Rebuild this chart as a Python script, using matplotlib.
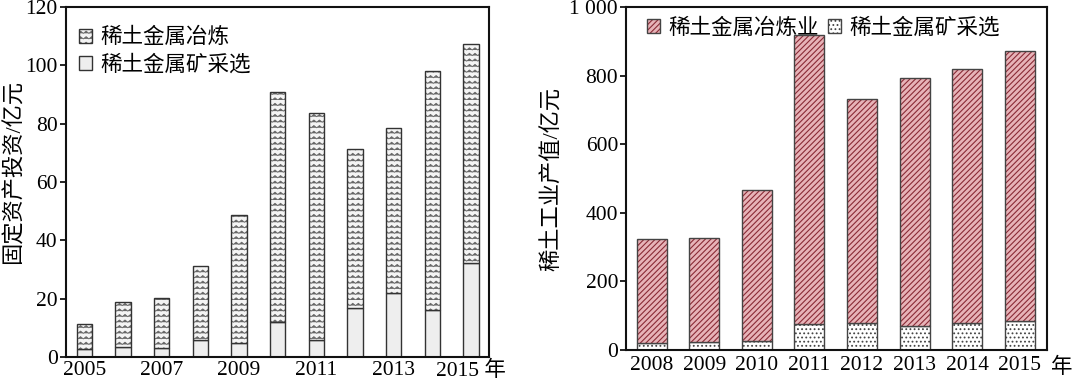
import warnings
import numpy as np
import matplotlib
matplotlib.use('Agg')
import matplotlib.pyplot as plt
from matplotlib import hatch as mhatch
from matplotlib.path import Path

warnings.filterwarnings('ignore')

# left panel: fixed asset investment (亿元)
years_a = [2005, 2006, 2007, 2008, 2009, 2010, 2011, 2012, 2013, 2014, 2015]
mining_a = [2.6, 3.5, 3.0, 5.8, 4.7, 12.1, 6.0, 16.7, 22.0, 16.1, 32.1]
total_a = [11.3, 18.9, 20.3, 31.2, 48.7, 90.7, 83.8, 71.2, 78.6, 98.2, 107.2]
ticks_a = [2005, 2007, 2009, 2011, 2013, 2015]
ticklabels_a = ['2005', '2007', '2009', '2011', '2013', '2015 年']

# right panel: industrial output value (亿元)
years_b = [2008, 2009, 2010, 2011, 2012, 2013, 2014, 2015]
mining_b = [20, 22, 27, 76, 78, 70, 78, 85]
total_b = [323, 328, 467, 918, 731, 794, 821, 872]
ticklabels_b = ['2008', '2009', '2010', '2011', '2012', '2013', '2014', '2015']
yticks_b = [0, 200, 400, 600, 800, 1000]
yticklabels_b = ['0', '200', '400', '600', '800', '1 000']


class ZigZagHatch(mhatch.HatchPatternBase):
    # horizontal zigzag rows, used with the 'z' hatch character
    def __init__(self, hatch, density):
        self.num_rows = int(hatch.count('z') * density)
        self.teeth = self.num_rows
        self.num_vertices = self.num_rows * (2 * self.teeth + 1)

    def set_vertices_and_codes(self, vertices, codes):
        if self.num_rows == 0:
            return
        step = 1.0 / self.num_rows
        n = 2 * self.teeth + 1
        xs = np.linspace(0, 1, n)
        amp = np.where(np.arange(n) % 2 == 1, step * 0.4, 0.0)
        for i in range(self.num_rows):
            v = vertices[i * n:(i + 1) * n]
            v[:, 0] = xs
            v[:, 1] = i * step + amp
            c = codes[i * n:(i + 1) * n]
            c[:] = Path.LINETO
            c[0] = Path.MOVETO


mhatch._hatch_types.append(ZigZagHatch)

plt.rcParams['font.family'] = ['Liberation Serif', 'Noto Sans CJK SC']
plt.rcParams['axes.unicode_minus'] = False
FS = 15.5

fig = plt.figure(figsize=(10.8, 3.84), dpi=100)
ax1 = fig.add_axes([0.061, 0.0703, 0.392, 0.9115])
ax2 = fig.add_axes([0.580, 0.0885, 0.389, 0.8925])

# left
smelt_a = np.array(total_a) - np.array(mining_a)
plt.rcParams['hatch.linewidth'] = 0.6
ax1.bar(years_a, mining_a, width=0.4, color='#eeeeee', edgecolor='#333333',
        linewidth=1.0, label='稀土金属矿采选')
bars = ax1.bar(years_a, smelt_a, width=0.4, bottom=mining_a, color='#f4f4f4',
               edgecolor='#333333', linewidth=1.0, hatch='zzz', label='稀土金属冶炼')
for p in bars:
    p._hatch_color = matplotlib.colors.to_rgba('#666666')
ax1.set_xlim(2004.52, 2015.47)
ax1.set_ylim(0, 120)
ax1.set_yticks(np.arange(0, 121, 20))
ax1.set_xticks(ticks_a)
ax1.set_xticklabels(ticklabels_a)
ax1.tick_params(axis='x', length=0, labelsize=FS, pad=3)
ax1.tick_params(axis='y', direction='out', length=4, width=1.2, labelsize=FS, pad=2)
ax1.set_ylabel('固定资产投资/亿元', fontsize=16)
ax1.yaxis.set_label_coords(-0.098, 0.53)
h, l = ax1.get_legend_handles_labels()
leg = ax1.legend(h[::-1], l[::-1], loc='upper left', frameon=False, fontsize=FS,
                 handlelength=0.6, handleheight=0.6, handletextpad=0.4,
                 labelspacing=0.3, borderaxespad=0.2, bbox_to_anchor=(0.0, 0.977))
leg.legend_handles[0]._hatch_color = matplotlib.colors.to_rgba('#666666')

# right
smelt_b = np.array(total_b) - np.array(mining_b)
plt.rcParams['hatch.linewidth'] = 0.8
ax2.bar(years_b, mining_b, width=0.57, color='white', edgecolor='#444444',
        linewidth=1.0, hatch='....', label='稀土金属矿采选')
bars = ax2.bar(years_b, smelt_b, width=0.57, bottom=mining_b, color='#e7b3b8',
               edgecolor='#444444', linewidth=1.0, hatch='//////', label='稀土金属冶炼业')
for p in bars:
    p._hatch_color = matplotlib.colors.to_rgba('#8a2b36')
ax2.set_xlim(2007.52, 2015.51)
ax2.set_ylim(0, 1000)
ax2.set_yticks(yticks_b)
ax2.set_yticklabels(yticklabels_b)
ax2.set_xticks(years_b)
ax2.set_xticklabels(ticklabels_b)
ax2.tick_params(axis='x', length=0, labelsize=FS, pad=4)
ax2.tick_params(axis='y', direction='out', length=4, width=1.2, labelsize=FS, pad=2)
ax2.text(1.036, -0.023, '年', transform=ax2.transAxes, ha='center', va='top', fontsize=FS)
ax2.set_ylabel('稀土工业产值/亿元', fontsize=16)
ax2.yaxis.set_label_coords(-0.15, 0.5)
h, l = ax2.get_legend_handles_labels()
leg = ax2.legend(h[::-1], l[::-1], loc='upper left', ncol=2, frameon=False, fontsize=FS,
                 handlelength=0.6, handleheight=0.6, handletextpad=0.4,
                 columnspacing=0.4, borderaxespad=0.1, bbox_to_anchor=(0.024, 1.0))
leg.legend_handles[0]._hatch_color = matplotlib.colors.to_rgba('#8a2b36')

for ax in (ax1, ax2):
    for s in ax.spines.values():
        s.set_linewidth(1.5)
        s.set_color('#111111')

fig.savefig('out.png', dpi=100)
